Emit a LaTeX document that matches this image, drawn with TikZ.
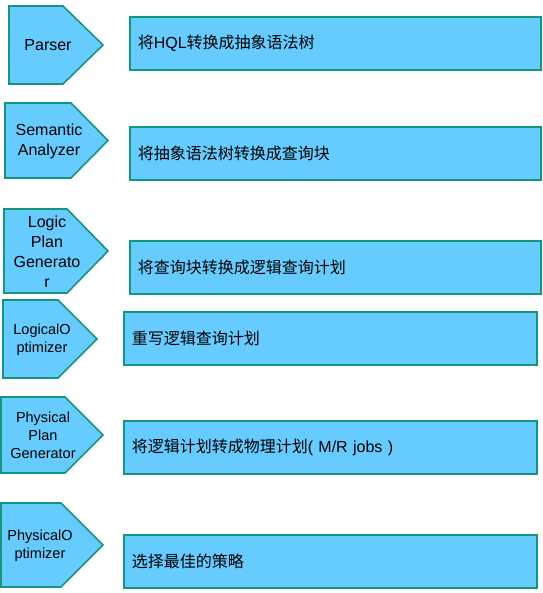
\documentclass[tikz,border=0pt]{standalone}
\usepackage{fontspec}
\setmainfont{Liberation Sans}
\newfontfamily\cjk{Noto Sans CJK SC}
\definecolor{sky}{RGB}{102,204,255}
\definecolor{edge}{RGB}{20,150,125}

\begin{document}
\begin{tikzpicture}[x=1pt, y=-1pt]
  \tikzstyle{stage} = [draw=edge, fill=sky, line width=1.6pt, line join=miter]
  \tikzstyle{task} = [rectangle, draw=edge, fill=sky, line width=1.6pt, anchor=north west, inner xsep=8pt, inner ysep=0pt, text width=395pt, minimum height=53pt, align=left, font=\fontsize{16}{19}\selectfont]
  \tikzstyle{big} = [align=center, inner sep=0pt, font=\fontsize{16}{20}\selectfont]
  \tikzstyle{small} = [align=center, inner sep=0pt, font=\fontsize{14.5}{18}\selectfont]

  \useasboundingbox[fill=white] (0,0) rectangle (542,593);

  % arrow heads on the left: left/top/bottom/bend/tip
  \foreach \l/\t/\b/\k/\p in {9/6/84/63/103, 5/103/178/71/108, 4/209/293/67/108,
                              3/300/378/58/97, 1/397/473/65/103, 1/503/587/61/103}
    \draw[stage] (\l,\t) -- (\k,\t) -- (\p,{(\t+\b)/2}) -- (\k,\b) -- (\l,\b) -- cycle;

  \node [big] (parser) at (48,45) {Parser};
  \node [big] (semantic) at (49,141) {Semantic\\Analyzer};
  \node [big] (logicgen) at (47,252) {Logic\\Plan\\Generato\\r};
  \node [small] (logicopt) at (42,340) {LogicalO\\ptimizer};
  \node [small] (physgen) at (43,435) {Physical\\Plan\\Generator};
  \node [small] (physopt) at (40,546) {PhysicalO\\ptimizer};

  % what each step does
  \node [task] (toast) at (129,16) {{\cjk 将}HQL{\cjk 转换成抽象语法树}};
  \node [task] (toblock) at (129,126) {\cjk 将抽象语法树转换成查询块};
  \node [task] (tological) at (129,240) {\cjk 将查询块转换成逻辑查询计划};
  \node [task, text width=397pt] (rewrite) at (123,311) {\cjk 重写逻辑查询计划};
  \node [task, text width=397pt] (tophysical) at (123,420) {{\cjk 将逻辑计划转成物理计划}( M/R jobs )};
  \node [task, text width=397pt] (choose) at (123,534) {\cjk 选择最佳的策略};
\end{tikzpicture}
\end{document}
